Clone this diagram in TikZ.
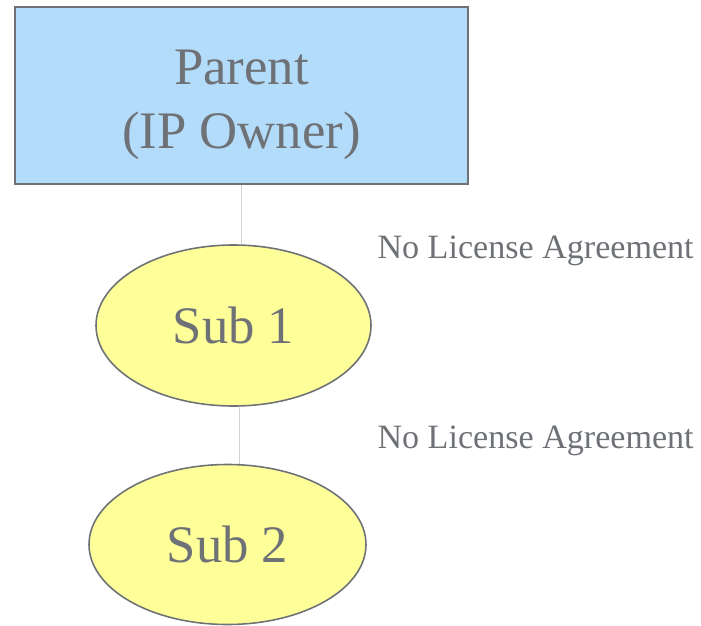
\documentclass[tikz,border=0pt]{standalone}
\usepackage{fontspec}
\setmainfont{Liberation Serif}
\usepackage{tikz}
\usetikzlibrary{shapes.geometric,positioning}

\definecolor{inkgray}{HTML}{6E7276}
\definecolor{boxblue}{HTML}{B3DBFA}
\definecolor{subyellow}{HTML}{FFFF99}
\definecolor{linkgray}{HTML}{D2D2D2}

\begin{document}
\begin{tikzpicture}[-,auto,semithick,
    owner/.style={draw=inkgray,line width=1.2pt,fill=boxblue,text=inkgray,
                  minimum width=9.06cm,minimum height=3.54cm,inner sep=0pt,
                  align=center,font=\fontsize{30}{36}\selectfont},
    sub/.style={ellipse,draw=inkgray,line width=0.9pt,fill=subyellow,text=inkgray,
                inner sep=0pt,font=\fontsize{30}{36}\selectfont},
    note/.style={text=inkgray,inner sep=0pt,anchor=base west,font=\fontsize{19.4}{23}\selectfont},
    link/.style={draw=linkgray,line width=0.5pt}]
  \useasboundingbox (0,0) rectangle (14.02,-12.52);

  \node[owner]  (P)  at (4.83,-1.91)  {\\[-0.2cm]Parent\\(IP Owner)};
  \node[sub,minimum width=5.5cm,minimum height=3.22cm]  (S1) at (4.67,-6.51) {Sub 1};
  \node[sub,minimum width=5.54cm,minimum height=3.2cm]  (S2) at (4.55,-10.89) {Sub 2};

  \node[note]  (L1) at (7.54,-5.16) {No License Agreement};
  \node[note]  (L2) at (7.54,-8.96) {No License Agreement};

  \path (P.south) edge [link] (P.south |- S1.north)
        ([xshift=0.12cm]S1.south) edge [link] ([xshift=0.12cm]S1.south |- S2.north);

\end{tikzpicture}
\end{document}
